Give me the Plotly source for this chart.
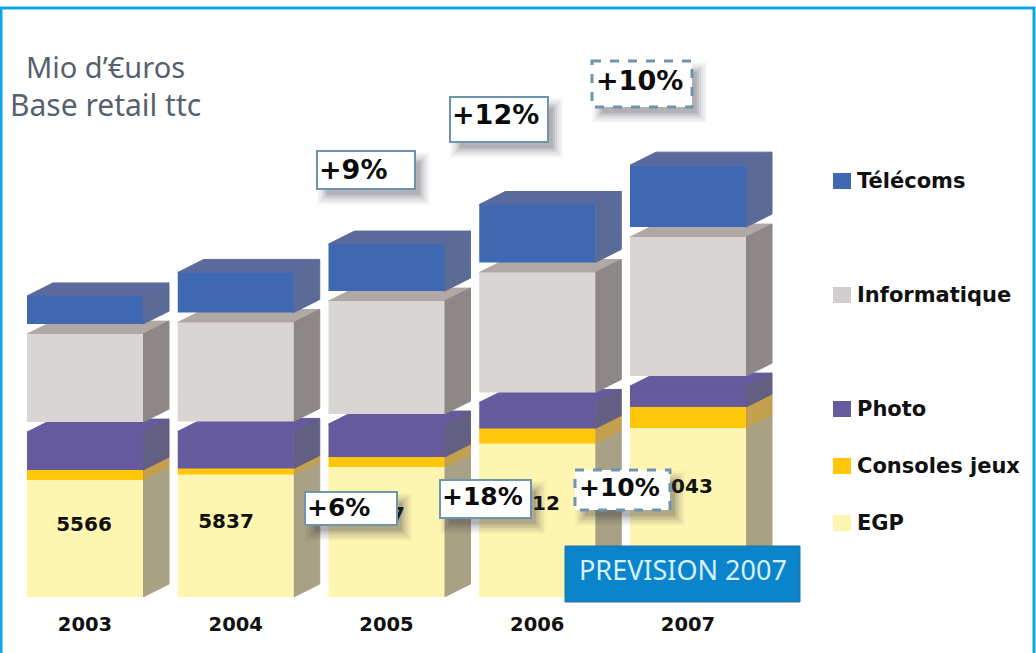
import plotly.graph_objects as go

# ---- data (Mio d'euros) ----
years = [2003, 2004, 2005, 2006, 2007]
egp = [5566, 5837, 6187, 7312, 8043]
consoles = [476, 286, 476, 714, 1000]
photo = [1810, 1762, 1571, 1238, 1000]
informatique = [4190, 4714, 5381, 5714, 6619]
telecoms = [1340, 1905, 2238, 2760, 2950]
growth_labels_low = ["+6%", "+18%", "+10%"]
growth_labels_high = ["+9%", "+12%", "+10%"]

# ---- geometry / style ----
W, H = 1036, 653
BOTTOM = 597            # px of the chart baseline
PX_PER_UNIT = 0.021     # vertical scale
X0_PX, STEP_PX = 85, 150.75
BAR_PX, DX_PX, DY_PX = 116, 26, 13
GAP_UNITS = 10 / PX_PER_UNIT   # visible top face between the stacked blocks

BOLD = "DejaVu Sans"
LIGHT = "Noto Sans"
INK = "#111111"


def dx(px):
    return px / STEP_PX


ymax = BOTTOM / PX_PER_UNIT
xmin = years[0] - X0_PX / STEP_PX
xmax = years[0] + (W - X0_PX) / STEP_PX
half = dx(BAR_PX) / 2
depth_x = dx(DX_PX)
depth_y = DY_PX / PX_PER_UNIT

series = [
    ("EGP", egp, 0, "#fdf5b0", "#fdf5b0", "#a9a184"),
    ("Consoles jeux", consoles, 0, "#ffc60a", "#ffc60a", "#c2a050"),
    ("Photo", photo, 0, "#665a9e", "#665a9e", "#635f82"),
    ("Informatique", informatique, GAP_UNITS, "#d9d5d2", "#b0a8a4", "#8d8785"),
    ("Télécoms", telecoms, GAP_UNITS, "#3f68b3", "#5a6a9c", "#5a6b98"),
]

fig = go.Figure()
running = [0.0] * len(years)
bars = []
for name, values, gap, front, top, side in series:
    bases = [r + gap for r in running]
    tops = [b + v for b, v in zip(bases, values)]
    side_x, side_y, top_x, top_y = [], [], [], []
    for yr, b, t in zip(years, bases, tops):
        r = yr + half
        l = yr - half
        side_x += [r, r, r + depth_x, r + depth_x, r, None]
        side_y += [b, t, t + depth_y, b + depth_y, b, None]
        top_x += [l, r, r + depth_x, l + depth_x, l, None]
        top_y += [t, t, t + depth_y, t + depth_y, t, None]
    for xs, ys, col in ((top_x, top_y, top), (side_x, side_y, side)):
        fig.add_trace(go.Scatter(x=xs, y=ys, mode="lines", fill="toself",
                                 fillcolor=col, line=dict(width=1, color=col),
                                 hoverinfo="skip", showlegend=False))
    bars.append(go.Bar(x=years, y=values, base=bases, width=dx(BAR_PX), name=name,
                       marker=dict(color=front, line=dict(width=0)),
                       yaxis="y2", showlegend=False))
    running = tops
for b in bars:
    fig.add_trace(b)

# value labels on the EGP blocks
label_px = [(84, 526), (226, 523), (377, 516), (532, 505), (685, 488)]
fig.add_trace(go.Scatter(
    x=[years[0] + (p[0] - X0_PX) / STEP_PX for p in label_px],
    y=[(BOTTOM - p[1]) / PX_PER_UNIT for p in label_px],
    text=[str(v) for v in egp], mode="text", yaxis="y2",
    textfont=dict(family=BOLD, size=20, color=INK, weight="bold"),
    textposition="middle center", showlegend=False, hoverinfo="skip"))


def px_x(p):
    return p / W


def px_y(p):
    return (BOTTOM - p) / BOTTOM


shapes, annos = [], []


def rect(x0, y0, x1, y1, **kw):
    shapes.append(dict(type="rect", xref="paper", yref="paper", layer="above",
                       x0=px_x(x0), x1=px_x(x1), y0=px_y(y0), y1=px_y(y1), **kw))


def text(x, y, s, family, size, color, anchor="left", weight="normal"):
    annos.append(dict(xref="paper", yref="paper", x=px_x(x), y=px_y(y), text=s,
                      showarrow=False, xanchor=anchor, yanchor="middle",
                      align=anchor, borderpad=0,
                      font=dict(family=family, size=size, color=color, weight=weight)))


def growth_box(x0, y0, x1, y1, label, size, ty, dashed=False):
    for grow, alpha in ((8, 0.035), (6, 0.05), (4, 0.06), (2, 0.08), (0, 0.10), (-2, 0.12)):
        rect(x0 + 8 - grow, y0 + 9 - grow, x1 + 7 + grow, y1 + 8 + grow,
             fillcolor=f"rgba(45,45,60,{alpha})", line=dict(width=0))
    rect(x0, y0, x1, y1, fillcolor="white",
         line=dict(color="#6f94ad", width=3 if dashed else 2, dash="dash" if dashed else "solid"))
    text(x0 + 1 if not dashed else x0 + 3, ty, label, BOLD, size, "#0c0c0c", weight="bold")


# frame
shapes.append(dict(type="rect", xref="paper", yref="paper", layer="above",
                   x0=px_x(1), x1=px_x(1034), y0=px_y(680), y1=px_y(8),
                   line=dict(color="#0ca5e8", width=3), fillcolor="rgba(0,0,0,0)"))

# growth boxes (upper row, lower row)
growth_box(317, 151, 415, 189, growth_labels_high[0], 27, 169)
growth_box(450, 97, 548, 142, growth_labels_high[1], 27, 115)
growth_box(592, 61, 692, 107, growth_labels_high[2], 27, 80, dashed=True)
growth_box(305, 492, 397, 525, growth_labels_low[0], 25, 507)
growth_box(440, 480, 531, 518, growth_labels_low[1], 25, 496)
growth_box(575, 470, 670, 510, growth_labels_low[2], 25, 487, dashed=True)

# forecast banner
rect(565, 546, 800, 602, fillcolor="#0a85cc", line=dict(color="#2a6f9e", width=1))
text(682.5, 569, "PREVISION 2007", LIGHT, 27, "#d8f0f8", anchor="center")

# title
text(25, 67, "Mio d’€uros", LIGHT, 29, "#55626e")
text(9, 105, "Base retail ttc", LIGHT, 30, "#55626e")

# legend
legend_rows = [("Télécoms", 181, "#3f68b3"), ("Informatique", 295, "#d2ced0"),
               ("Photo", 409, "#665a9e"), ("Consoles jeux", 466, "#ffc60a"),
               ("EGP", 523, "#fdf5b0")]
for name, yc, col in legend_rows:
    rect(833, yc - 8, 851, yc + 8, fillcolor=col, line=dict(width=0))
    text(856, yc, name, BOLD, 21, INK, weight="bold")

fig.update_layout(
    width=W, height=H, margin=dict(l=0, r=0, t=0, b=H - BOTTOM, autoexpand=False),
    paper_bgcolor="white", plot_bgcolor="white", barmode="overlay",
    showlegend=False, shapes=shapes, annotations=annos,
    xaxis=dict(range=[xmin, xmax], tickvals=years, ticktext=[str(y) for y in years],
               showgrid=False, zeroline=False, showline=False, ticks="",
               ticklabelstandoff=13,
               tickfont=dict(family=BOLD, size=19.5, color=INK, weight="bold")),
    yaxis=dict(range=[0, ymax], visible=False),
    yaxis2=dict(range=[0, ymax], visible=False, overlaying="y"),
)

fig.write_html("out.html", config={"displayModeBar": False},
               post_script="document.body.style.margin='0';document.body.style.overflow='hidden';")
